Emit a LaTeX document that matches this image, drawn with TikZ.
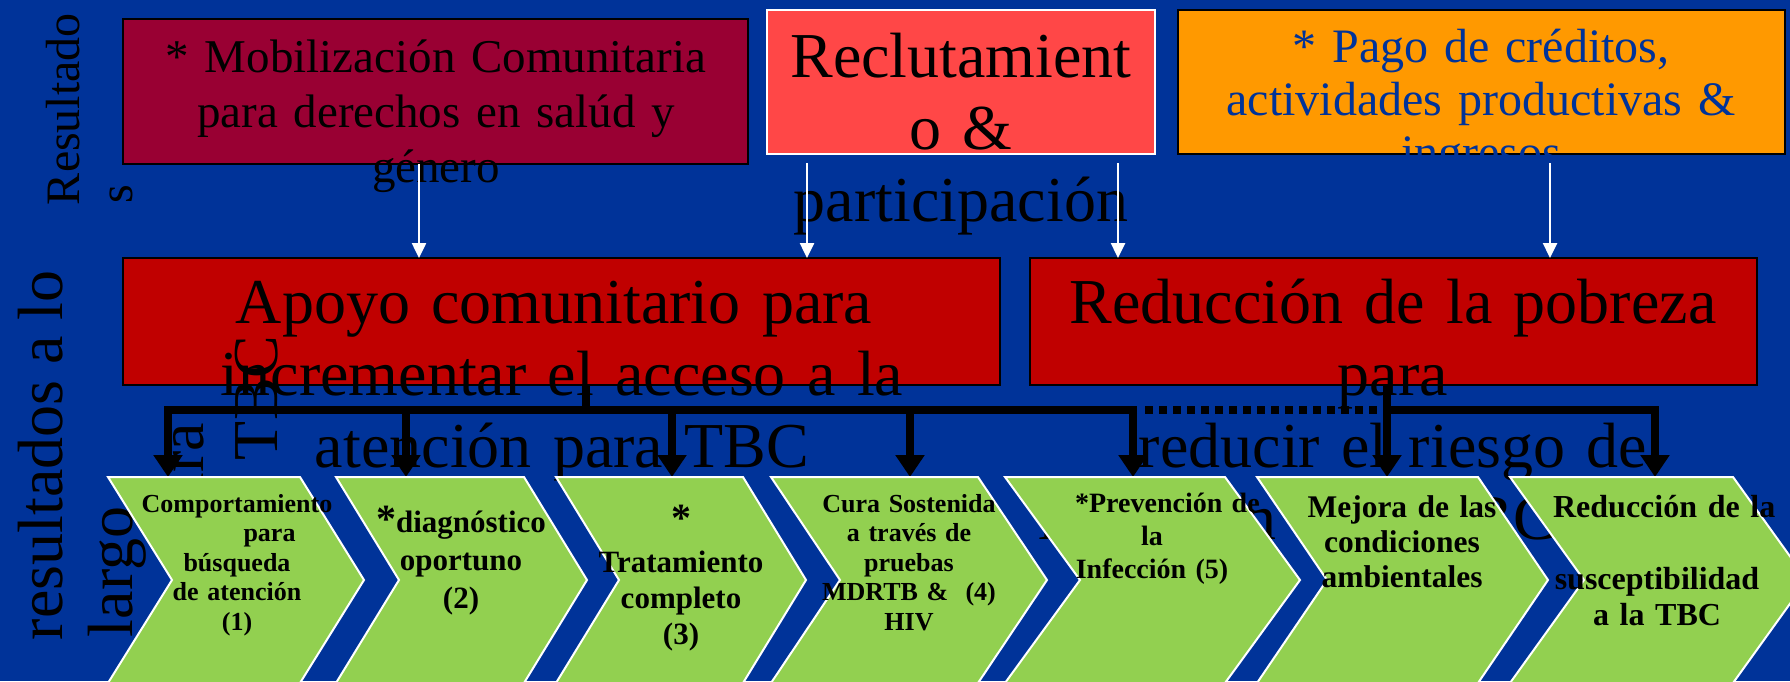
\documentclass[tikz,border=0pt]{standalone}
\usepackage{fontspec}
\setmainfont{Liberation Serif}
\usetikzlibrary{arrows.meta}
\definecolor{bgblue}{HTML}{003399}
\definecolor{wine}{HTML}{990033}
\definecolor{coral}{HTML}{FF4747}
\definecolor{boxorange}{HTML}{FF9900}
\definecolor{darkred}{HTML}{C00000}
\definecolor{chevgreen}{HTML}{92D050}
\newcommand{\fs}[2]{\fontsize{#1pt}{#2pt}\selectfont}
\newcommand{\mychev}[3]{\filldraw[chevst] (#1,477) -- (#2,477) -- ++(#3,103) -- (#2,683) -- (#1,683) -- ++(#3,-103) -- cycle;}
\begin{document}
\begin{tikzpicture}[x=1pt,y=-1pt,
  boxst/.style={draw=black,line width=2pt,inner sep=0pt,outer sep=0pt},
  txt/.style={inner sep=0pt,outer sep=0pt,text width=#1,align=center,anchor=base},
  rot/.style={rotate=90,anchor=base west,inner sep=0pt,outer sep=0pt},
  warrow/.style={draw=white,line width=2.5pt,-{Triangle[width=14pt,length=15pt]}},
  bline/.style={draw=black,line width=8pt},
  btip/.style={-{Triangle[width=28pt,length=22pt]}},
  chevst/.style={fill=chevgreen,draw=white,line width=2pt,line join=miter},
  ctxt/.style={inner sep=0pt,outer sep=0pt,text width=300pt,align=center,anchor=base}
]
\useasboundingbox (0,0) rectangle (1790,681);
\fill[bgblue] (0,0) rectangle (1790,681);

% top boxes
\node[boxst,fill=wine,minimum width=625pt,minimum height=145pt] (b1) at (435.5,91.5) {};
\node[boxst,draw=white,fill=coral,minimum width=388pt,minimum height=144pt] (b2) at (961,82) {};
\node[boxst,fill=boxorange,minimum width=607pt,minimum height=144pt] (b3) at (1481.5,82) {};
\node[txt=700pt,font=\fs{47}{55}] (t1) at (436,72) {* Mobilización Comunitaria\\para derechos en salúd y\\género};
\node[txt=500pt,font=\fs{64}{72}] (t2) at (961,77) {Reclutamient\\o \&\\participación};
\begin{scope}
\clip (1178,0) rectangle (1790,157);
\node[txt=620pt,font=\fs{48}{53},text=bgblue] (t3) at (1481,62) {* Pago de créditos,\\actividades productivas \&\\ingresos};
\end{scope}

% left labels (top)
\node[rot,font=\fs{48}{53}] (r1) at (79,205) {Resultado};
\node[rot,font=\fs{48}{53}] (r2) at (132,203) {s};

% red boxes
\node[boxst,fill=darkred,minimum width=877pt,minimum height=127pt] (bA) at (561.5,321.5) {};
\node[boxst,fill=darkred,minimum width=727pt,minimum height=127pt] (bB) at (1393.5,321.5) {};
\node[txt=900pt,font=\fs{64}{72}] (tA) at (562,323) {Apoyo comunitario para\kern16pt\\incrementar el acceso a la\\atención para TBC};
\node[txt=800pt,font=\fs{64}{72}] (tB) at (1393,323) {Reducción de la pobreza\\para\\reducir el riesgo de};
\node[anchor=base east,inner sep=0pt,font=\fs{64}{72}] (tB4) at (1556,539) {infección de la TBC};

% left labels (bottom)
\node[rot,font=\fs{64}{72}] (l1) at (62,640) {resultados a lo};
\node[rot,font=\fs{64}{72}] (l2) at (132,637) {largo};
\node[rot,font=\fs{64}{72}] (l3) at (203,533) {para};
\node[rot,font=\fs{64}{72}] (l4) at (277,460) {TBC};

% white arrows
\draw[warrow] (b1.south -| 419,0) -- (bA.north -| 419,0);
\draw[warrow,shorten <=9pt] (b2.south -| 807,0) -- (bA.north -| 807,0);
\draw[warrow,shorten <=9pt] (b2.south -| 1118,0) -- (bB.north -| 1118,0);
\draw[warrow,shorten <=9pt] (b3.south -| 1550,0) -- (bB.north -| 1550,0);

% black connectors
\coordinate (chtop) at (0,477);
\coordinate (bus) at (0,410);
\draw[bline] (bA.south -| 586,0) -- (bus -| 586,0);
\draw[bline,btip] (1137,410) -| (168,477);
\foreach \x in {406,672,910,1133} \draw[bline,btip] (bus -| \x,0) -- (chtop -| \x,0);
\draw[bline,dash pattern=on 8pt off 6pt] (1145,410) -- (1383,410);
\draw[bline,btip] (bB.south -| 1387,0) -- (chtop -| 1387,0);
\draw[bline,btip] (1383,410) -| (1655,477);

% chevrons
\mychev{108}{300}{64}
\mychev{336}{524}{63}
\mychev{556}{743}{63}
\mychev{771}{978}{69}
\mychev{1005}{1225}{75}
\mychev{1257}{1478}{70}
\mychev{1510}{1733}{74}

\node[ctxt,font=\bfseries\fs{26}{29.5}] (c1) at (237,512) {Comportamiento\\\hspace*{2.5em}para\\búsqueda\\de atención\\(1)};
\node[ctxt,font=\bfseries\fs{31}{38}] (c2) at (461,532) {{\fs{40}{38}*}diagnóstico\\oportuno\\(2)};
\node[ctxt,font=\bfseries\fs{31}{36}] (c3) at (681,536) {{\fs{40}{36}\raisebox{5pt}{*}}\\Tratamiento\\completo\\(3)};
\node[ctxt,font=\bfseries\fs{26}{29.5}] (c4) at (909,512) {Cura Sostenida\\a través de\\pruebas\\MDRTB \&\ \ (4)\\HIV};
\node[ctxt,font=\bfseries\fs{28}{33}] (c5) at (1152,512) {\hspace*{1.1em}*Prevención de\\la\\Infección (5)};
\node[ctxt,font=\bfseries\fs{31.5}{35}] (c6) at (1402,517) {Mejora de las\\condiciones\\ambientales};
\node[ctxt,font=\bfseries\fs{32}{36}] (c7) at (1657,517) {\hspace*{0.45em}Reducción de la\\\mbox{}\\susceptibilidad\\a la TBC};
\end{tikzpicture}
\end{document}
